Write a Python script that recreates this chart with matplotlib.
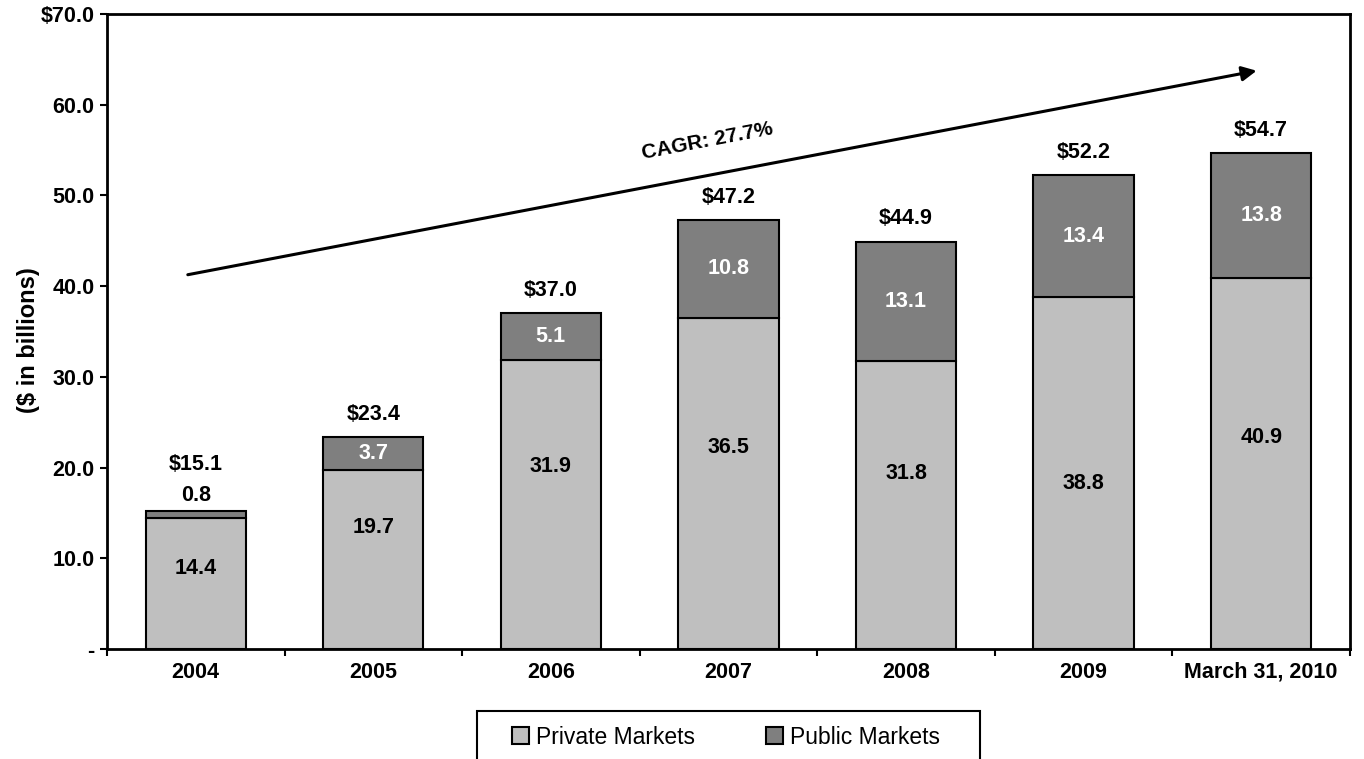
import matplotlib.pyplot as plt
import matplotlib.patches as mpatches
import numpy as np

plt.rcParams['font.family'] = ['Liberation Sans', 'DejaVu Sans']

# data
periods = ['2004', '2005', '2006', '2007', '2008', '2009', 'March 31, 2010']
private_mkts = [14.4, 19.7, 31.9, 36.5, 31.8, 38.8, 40.9]
public_mkts = [0.8, 3.7, 5.1, 10.8, 13.1, 13.4, 13.8]
totals = [15.1, 23.4, 37.0, 47.2, 44.9, 52.2, 54.7]
yticks = [0, 10, 20, 30, 40, 50, 60, 70]
ytick_labels = ['-', '10.0', '20.0', '30.0', '40.0', '50.0', '60.0', '$70.0']
cagr_text = 'CAGR: 27.7%'

light = '#bfbfbf'
dark = '#7f7f7f'
fs = 15.5
W, H = 1364, 759

fig = plt.figure(figsize=(W / 100, H / 100), dpi=100)
ax = fig.add_axes([0.0784, 0.1449, 0.9113, 0.8367])

x = np.arange(len(periods))
w = 0.565
b1 = ax.bar(x, private_mkts, w, color=light, edgecolor='black', linewidth=1.5,
            label='Private Markets', zorder=2)
b2 = ax.bar(x, public_mkts, w, bottom=private_mkts, color=dark, edgecolor='black',
            linewidth=1.5, label='Public Markets', zorder=2)

# where the private labels sit inside the bars (fraction of bar height)
priv_frac = [0.62, 0.68, 0.63, 0.61, 0.61, 0.47, 0.57]

for i in range(len(periods)):
    ax.text(x[i], private_mkts[i] * priv_frac[i], '%.1f' % private_mkts[i],
            ha='center', va='center', fontsize=fs, fontweight='bold', color='black')
    top = private_mkts[i] + public_mkts[i]
    if public_mkts[i] < 2:
        ax.text(x[i], top + 1.7, '%.1f' % public_mkts[i], ha='center', va='center',
                fontsize=fs, fontweight='bold', color='black')
        ax.text(x[i], top + 5.1, '$%.1f' % totals[i], ha='center', va='center',
                fontsize=fs, fontweight='bold', color='black')
    else:
        ax.text(x[i], private_mkts[i] + public_mkts[i] / 2, '%.1f' % public_mkts[i],
                ha='center', va='center', fontsize=fs, fontweight='bold', color='white')
        ax.text(x[i], top + 2.5, '$%.1f' % totals[i], ha='center', va='center',
                fontsize=fs, fontweight='bold', color='black')

# growth arrow
ax.annotate('', xy=(5.99, 63.8), xytext=(-0.06, 41.2),
            arrowprops=dict(arrowstyle='-|>', color='black', lw=2.2,
                            mutation_scale=22), zorder=3)
ax.text(2.88, 56.0, cagr_text, rotation=10.8, ha='center', va='center',
        fontsize=15, fontweight='bold', rotation_mode='anchor')

ax.set_xlim(-0.5, len(periods) - 0.5)
ax.set_ylim(0, 70)
ax.set_yticks(yticks)
ax.set_yticklabels(ytick_labels, fontsize=fs, fontweight='bold')
ax.set_xticks(x)
ax.set_xticklabels(periods, fontsize=fs, fontweight='bold')
ax.tick_params(axis='x', length=0, pad=9)
ax.set_xticks(np.arange(len(periods) + 1) - 0.5, minor=True)
ax.tick_params(axis='x', which='minor', length=5, width=1.5, direction='out')
ax.tick_params(axis='y', length=5, width=1.5, direction='out', pad=4)
for s in ax.spines.values():
    s.set_linewidth(2)
ax.set_ylabel('($ in billions)', fontsize=17, fontweight='bold')
ax.yaxis.set_label_coords(-0.054, 0.487)

# legend box drawn by hand so its padding matches
box = mpatches.Rectangle((477 / W, -0.01), (980 - 477) / W, 1 - 711 / H + 0.01,
                         transform=fig.transFigure, fill=False, edgecolor='black',
                         linewidth=1.5)
fig.add_artist(box)
leg = fig.legend(handles=[b1, b2], loc='center left',
                 bbox_to_anchor=(512 / W, 1 - 737 / H),
                 ncol=2, fontsize=16.5, frameon=False,
                 handlelength=0.75, handleheight=0.75, borderpad=0, borderaxespad=0,
                 handletextpad=0.3, columnspacing=3.1)

fig.savefig('out.png', dpi=100)
